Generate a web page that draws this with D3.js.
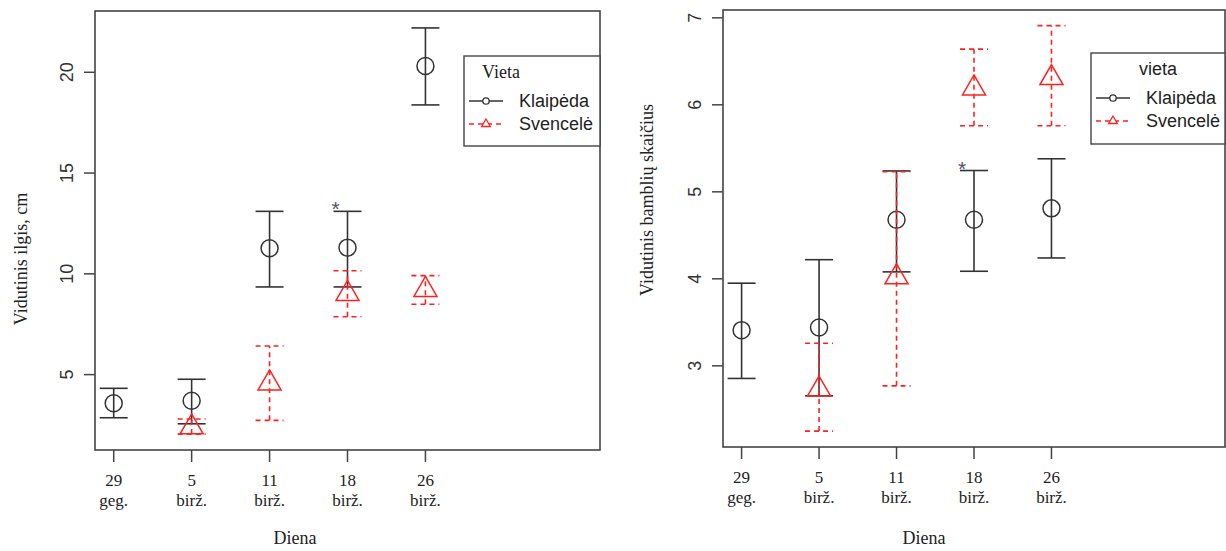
<!DOCTYPE html>
<html>
<head>
<meta charset="utf-8">
<script src="https://cdn.jsdelivr.net/npm/d3@7"></script>
<style>
  body { margin: 0; background: #fff; }
  text { fill: #222; }
</style>
</head>
<body>
<svg id="chart" width="1226" height="551"></svg>
<script>
// days on the x axis
const dayPos = [1, 2, 3, 4, 5];
const dayNum = ["29", "5", "11", "18", "26"];
const dayMonth = ["geg.", "birž.", "birž.", "birž.", "birž."];
const seriesNames = ["Klaipėda", "Svencelė"];

// left: Vidutinis ilgis, cm
const ilgisKlaipeda   = [3.58, 3.70, 11.27, 11.30, 20.31];
const ilgisKlaipedaLo = [2.86, 2.56, 9.35, 9.35, 18.38];
const ilgisKlaipedaHi = [4.32, 4.77, 13.10, 13.10, 22.20];
const ilgisSvencele   = [null, 2.39, 4.57, 9.01, 9.21];
const ilgisSvenceleLo = [null, 2.05, 2.73, 7.87, 8.49];
const ilgisSvenceleHi = [null, 2.80, 6.42, 10.15, 9.91];
const ilgisTicks = [5, 10, 15, 20];

// right: Vidutinis bamblių skaičius
const bambKlaipeda   = [3.41, 3.44, 4.68, 4.68, 4.81];
const bambKlaipedaLo = [2.855, 2.655, 4.08, 4.087, 4.24];
const bambKlaipedaHi = [3.95, 4.22, 5.24, 5.245, 5.38];
const bambSvencele   = [null, 2.73, 4.02, 6.19, 6.31];
const bambSvenceleLo = [null, 2.25, 2.77, 5.76, 5.76];
const bambSvenceleHi = [null, 3.26, 5.23, 6.64, 6.91];
const bambTicks = [3, 4, 5, 6, 7];

// significance mark (*) above this day
const starDay = 4;

const svg = d3.select("#chart");
const BOX = "#444", RED = "#ff2020", BLACK = "#333";

function makeSeries(mean, lo, hi) {
    return dayPos.map((d, i) => ({x: d, y: mean[i], lo: lo[i], hi: hi[i]}))
        .filter(d => d.y !== null);
}

function drawPanel(p) {
    const g = svg.append("g");

    const x = d3.scaleLinear().domain([0.76, 7.24]).range([p.x0, p.x1]);
    const y = d3.scaleLinear().domain(p.ydomain).range([p.y1, p.y0]);

    // frame
    g.append("rect")
        .attr("x", p.x0).attr("y", p.y0)
        .attr("width", p.x1 - p.x0).attr("height", p.y1 - p.y0)
        .attr("fill", "none").attr("stroke", BOX).attr("stroke-width", 1.6);

    // y axis
    g.selectAll(".ytick").data(p.yticks).enter().append("line")
        .attr("x1", p.x0 - 11).attr("x2", p.x0)
        .attr("y1", d => y(d)).attr("y2", d => y(d))
        .attr("stroke", BOX).attr("stroke-width", 1.5);

    g.selectAll(".ylab").data(p.yticks).enter().append("text")
        .attr("transform", d => "translate(" + (p.x0 - 28) + "," + y(d) + ") rotate(-90)")
        .attr("text-anchor", "middle")
        .attr("dy", "0.35em")
        .style("font-family", "Liberation Sans, Arial, sans-serif")
        .style("font-size", "18px")
        .style("fill", "#333")
        .text(d => d);

    // x axis
    g.selectAll(".xtick").data(dayPos).enter().append("line")
        .attr("x1", d => x(d)).attr("x2", d => x(d))
        .attr("y1", p.y1).attr("y2", p.y1 + 12)
        .attr("stroke", BOX).attr("stroke-width", 1.5);

    const xl = g.selectAll(".xlab").data(dayPos).enter().append("text")
        .attr("text-anchor", "middle")
        .style("font-family", "Liberation Serif, Times New Roman, serif")
        .style("font-size", "17px");
    xl.append("tspan").attr("x", d => x(d)).attr("y", p.y1 + 36).text((d, i) => dayNum[i]);
    xl.append("tspan").attr("x", d => x(d)).attr("y", p.y1 + 56).text((d, i) => dayMonth[i]);

    // axis titles
    g.append("text")
        .attr("x", p.xtitleX).attr("y", 544)
        .attr("text-anchor", "middle")
        .style("font-family", "Liberation Serif, Times New Roman, serif")
        .style("font-size", "18px")
        .text("Diena");

    g.append("text")
        .attr("transform", "translate(" + p.ytitleX + "," + p.ytitleY + ") rotate(-90)")
        .attr("text-anchor", "middle")
        .style("font-family", "Liberation Serif, Times New Roman, serif")
        .style("font-size", "18px")
        .text(p.ytitle);

    // error bars + points
    const capW = 14;
    p.series.forEach((s, si) => {
        const col = si === 0 ? BLACK : RED;
        const dash = si === 0 ? null : "5,4";
        const sg = g.append("g");
        const bars = sg.selectAll(".bar").data(s).enter().append("g");
        bars.append("line")
            .attr("x1", d => x(d.x)).attr("x2", d => x(d.x))
            .attr("y1", d => y(d.lo)).attr("y2", d => y(d.hi));
        bars.append("line")
            .attr("x1", d => x(d.x) - capW).attr("x2", d => x(d.x) + capW)
            .attr("y1", d => y(d.lo)).attr("y2", d => y(d.lo));
        bars.append("line")
            .attr("x1", d => x(d.x) - capW).attr("x2", d => x(d.x) + capW)
            .attr("y1", d => y(d.hi)).attr("y2", d => y(d.hi));
        bars.selectAll("line")
            .attr("stroke", col).attr("stroke-width", 1.6)
            .attr("stroke-dasharray", dash);

        if (si === 0) {
            sg.selectAll(".pt").data(s).enter().append("circle")
                .attr("cx", d => x(d.x)).attr("cy", d => y(d.y)).attr("r", 8.5)
                .attr("fill", "none").attr("stroke", col).attr("stroke-width", 1.5);
        } else {
            sg.selectAll(".pt").data(s).enter().append("path")
                .attr("d", d => triangle(x(d.x), y(d.y), 13.3))
                .attr("fill", "none").attr("stroke", col).attr("stroke-width", 1.5);
        }
    });

    // star
    const k = p.series[0].find(d => d.x === starDay);
    g.append("text")
        .attr("x", x(k.x) - 12).attr("y", y(k.hi) + 5)
        .attr("text-anchor", "middle")
        .style("font-family", "Liberation Sans, Arial, sans-serif")
        .style("font-size", "21px")
        .style("fill", "#556")
        .text("*");

    // legend
    const L = p.legend;
    g.append("rect")
        .attr("x", L.x).attr("y", L.y).attr("width", L.w).attr("height", L.h)
        .attr("fill", "#fff").attr("stroke", BOX).attr("stroke-width", 1.4);
    g.append("text")
        .attr("x", L.x + L.titleDx).attr("y", L.y + 22)
        .attr("text-anchor", "middle")
        .style("font-family", L.titleFont)
        .style("font-size", "18px")
        .text(L.title);
    seriesNames.forEach((name, i) => {
        const ly = L.y + 45 + i * 23;
        const col = i === 0 ? BLACK : RED;
        g.append("line")
            .attr("x1", L.x + 5).attr("x2", L.x + 39)
            .attr("y1", ly).attr("y2", ly)
            .attr("stroke", col).attr("stroke-width", 1.5)
            .attr("stroke-dasharray", i === 0 ? null : "5,4");
        if (i === 0) {
            g.append("circle").attr("cx", L.x + 22).attr("cy", ly).attr("r", 3.2)
                .attr("fill", "#fff").attr("stroke", col).attr("stroke-width", 1.3);
        } else {
            g.append("path").attr("d", triangle(L.x + 22, ly, 5))
                .attr("fill", "#fff").attr("stroke", col).attr("stroke-width", 1.3);
        }
        g.append("text")
            .attr("x", L.x + L.textDx).attr("y", ly)
            .attr("dy", "0.36em")
            .style("font-family", "Liberation Sans, Arial, sans-serif")
            .style("font-size", "18px")
            .text(name);
    });
}

function triangle(cx, cy, r) {
    const xc = r * 0.866, yc = r * 0.5;
    return "M" + cx + "," + (cy - r) + "L" + (cx + xc) + "," + (cy + yc) +
        "L" + (cx - xc) + "," + (cy + yc) + "Z";
}

drawPanel({
    x0: 95, x1: 600, y0: 11, y1: 450,
    ydomain: [1.26, 23.04], yticks: ilgisTicks,
    ytitle: "Vidutinis ilgis, cm", ytitleX: 27, ytitleY: 259, xtitleX: 295,
    series: [makeSeries(ilgisKlaipeda, ilgisKlaipedaLo, ilgisKlaipedaHi),
             makeSeries(ilgisSvencele, ilgisSvenceleLo, ilgisSvenceleHi)],
    legend: {x: 464, y: 56, w: 136, h: 90, title: "Vieta", titleDx: 37,
             titleFont: "Liberation Serif, Times New Roman, serif", textDx: 55}
});

drawPanel({
    x0: 723, x1: 1225, y0: 10, y1: 447,
    ydomain: [2.067, 7.09], yticks: bambTicks,
    ytitle: "Vidutinis bamblių skaičius", ytitleX: 653, ytitleY: 200, xtitleX: 924,
    series: [makeSeries(bambKlaipeda, bambKlaipedaLo, bambKlaipedaHi),
             makeSeries(bambSvencele, bambSvenceleLo, bambSvenceleHi)],
    legend: {x: 1091, y: 53, w: 134, h: 91, title: "vieta", titleDx: 67,
             titleFont: "Liberation Sans, Arial, sans-serif", textDx: 55}
});
</script>
</body>
</html>
